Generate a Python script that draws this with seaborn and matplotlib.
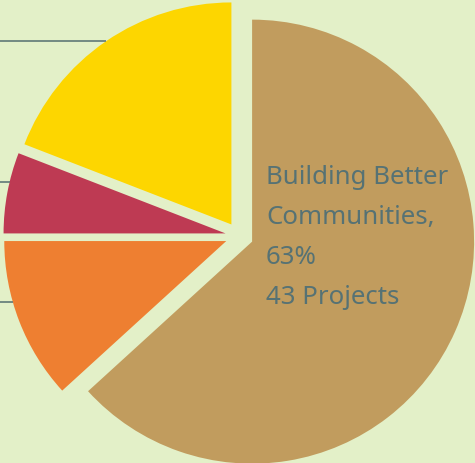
import numpy as np
import matplotlib
matplotlib.use("Agg")
import matplotlib.pyplot as plt
import seaborn as sns

# ---- data ----
categories = ["Building Better Communities", "Category B", "Category C", "Category D"]
projects = [43, 8, 4, 13]
colors = ["#c19c5e", "#ee7f31", "#be3a53", "#fdd600"]
main_label = "Building Better\nCommunities,\n63%\n43 Projects"

bg = "#e3f0c8"
text_color = "#567274"
leader_shift = [0, -5.2, -2.9, 0]  # degrees, label-collision offsets of the leader lines

sns.set_theme(style="white")
plt.rcParams["font.family"] = ["Noto Sans", "DejaVu Sans"]

fig = plt.figure(figsize=(4.75, 4.63), dpi=100, facecolor=bg)
ax = fig.add_axes([0, 0, 1, 1])
ax.set_facecolor(bg)

wedges, _ = ax.pie(projects, colors=colors, startangle=90, counterclock=False,
                   explode=[0.063] * len(projects), radius=1.0,
                   wedgeprops=dict(linewidth=0))

# leader lines from the smaller slices going off to the left
for w, s in list(zip(wedges, leader_shift))[1:]:
    ang = np.deg2rad((w.theta1 + w.theta2) / 2 + s)
    cx, cy = w.center
    px, py = cx + w.r * np.cos(ang), cy + w.r * np.sin(ang)
    ax.plot([-1.5, px], [py, py], color="#5f7877", lw=1.2, solid_capstyle="butt")

ax.text(0.12, 0.322, main_label, ha="left", va="top", color=text_color,
        fontsize=18.6, linespacing=1.80, fontweight="light")

ax.set_xlim(-1.078, 1.0617)
ax.set_ylim(-1.0225, 1.063)
ax.set_aspect("auto")
ax.axis("off")

fig.savefig("out.png", dpi=100, facecolor=bg)
